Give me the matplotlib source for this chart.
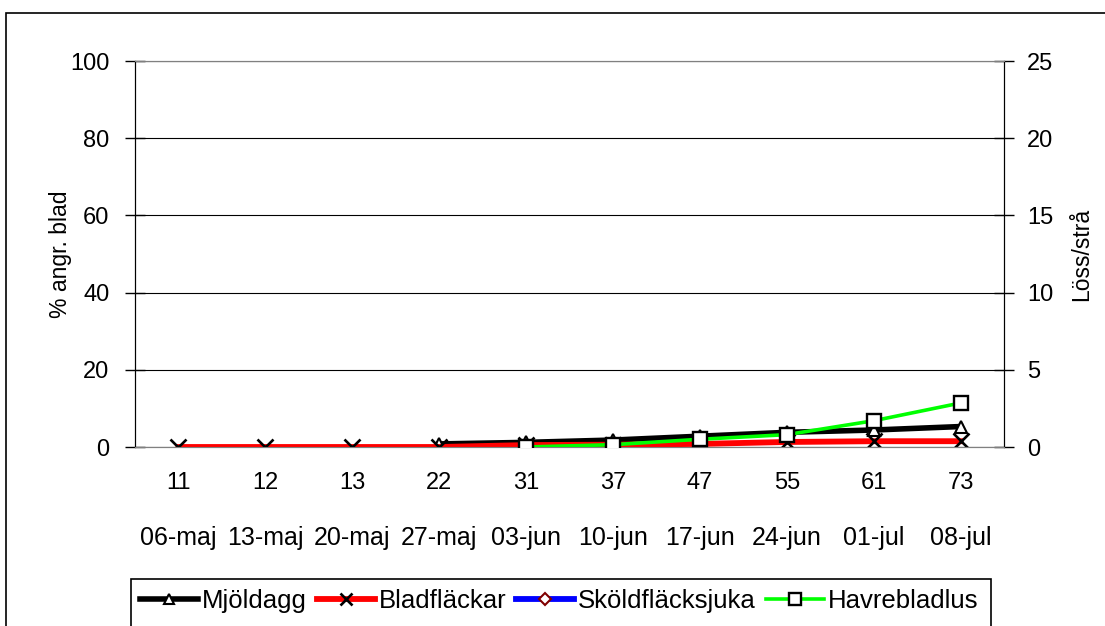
import numpy as np
import matplotlib
matplotlib.use("Agg")
import matplotlib.pyplot as plt
from matplotlib.patches import Rectangle

plt.rcParams['font.family'] = ['Liberation Sans', 'DejaVu Sans']

# stadier och datum för graderingarna
stadier = ['11', '12', '13', '22', '31', '37', '47', '55', '61', '73']
datum = ['06-maj', '13-maj', '20-maj', '27-maj', '03-jun',
         '10-jun', '17-jun', '24-jun', '01-jul', '08-jul']

# % angripna blad (vänster axel)
mjoldagg = [np.nan, np.nan, np.nan, 0.8, 1.2, 1.8, 2.8, 3.8, 4.4, 5.3]
bladflackar = [0, 0, 0, 0, 0.5, 0.6, 0.8, 1.3, 1.5, 1.5]
skoldflacksjuka = [np.nan] * 10

# löss per strå (höger axel)
havrebladlus = [np.nan, np.nan, np.nan, np.nan, 0.0, 0.15, 0.5, 0.8, 1.7, 2.85]

W, H = 1105, 626
fig = plt.figure(figsize=(W / 100, H / 100), dpi=100)
ax = fig.add_axes([135 / W, 1 - 447 / H, (1004 - 135) / W, (447 - 61) / H])
ax2 = ax.twinx()

x = np.arange(len(stadier))

l1, = ax.plot(x, mjoldagg, color='black', lw=4, marker='^', ms=8.5,
              mfc='white', mec='black', mew=1.5, zorder=3)
l2, = ax.plot(x, bladflackar, color='red', lw=4.2, marker='x', ms=11,
              mec='black', mew=1.9, zorder=4)
l3, = ax.plot(x, skoldflacksjuka, color='blue', lw=4.2, marker='D', ms=7,
              mfc='white', mec='#800000', mew=1.5, zorder=5)
l4, = ax2.plot(x, havrebladlus, color='#00ff00', lw=2.6, marker='s', ms=10,
               mfc='white', mec='black', mew=1.7, zorder=3)

ax.set_xlim(-0.5, len(stadier) - 0.5)
ax.set_ylim(0, 100)
ax.set_yticks(np.arange(0, 101, 20))
ax2.set_ylim(0, 25)
ax2.set_yticks(np.arange(0, 26, 5))

# två rader under x-axeln: stadium och datum
ax.set_xticks(x)
ax.set_xticklabels(stadier, fontsize=17)
ax.tick_params(axis='x', length=0, pad=18)
sec = ax.secondary_xaxis('bottom')
sec.set_xticks(x)
sec.set_xticklabels(datum, fontsize=18)
sec.tick_params(axis='x', length=0, pad=57)
sec.spines['bottom'].set_visible(False)

ax.tick_params(axis='y', direction='inout', length=15, width=1,
               labelsize=17, pad=11)
ax2.tick_params(axis='y', direction='inout', length=15, width=1,
                labelsize=17, pad=9)

ax.yaxis.grid(True, color='black', lw=0.8)
ax.set_axisbelow(True)

for a in (ax, ax2):
    a.spines['top'].set_color('#808080')
    a.spines['bottom'].set_color('#808080')
    a.spines['left'].set_color('black')
    a.spines['right'].set_color('black')

ax.set_ylabel('% angr. blad', fontsize=16.5)
ax.yaxis.set_label_coords((72 - 135) / 869, 0.5)
ax2.set_ylabel('Löss/strå', fontsize=16.5)
ax2.yaxis.set_label_coords((1070 - 135) / 869, 0.5)

# yttre ram kring diagrammet
fig.patches.append(Rectangle((6 / W, -0.2), 1.2, 1 - 13 / H + 0.2,
                             transform=fig.transFigure, fill=False,
                             ec='black', lw=1.2))

# förklaringsruta
fig.patches.append(Rectangle((131 / W, -0.2), (991 - 131) / W,
                             1 - 579 / H + 0.2, transform=fig.transFigure,
                             fill=False, ec='black', lw=1.2))
handles = [l1, l2, l3, l4]
labels = ['Mjöldagg', 'Bladfläckar', 'Sköldfläcksjuka', 'Havrebladlus']
fig.legend(handles, labels, loc='center left',
           bbox_to_anchor=(140 / W, 1 - 601 / H), ncol=4, frameon=False,
           fontsize=18.5, handlelength=2.25, handletextpad=0.15,
           columnspacing=0.4, borderaxespad=0, borderpad=0,
           markerscale=0.85)

fig.savefig('out.png', dpi=100)
